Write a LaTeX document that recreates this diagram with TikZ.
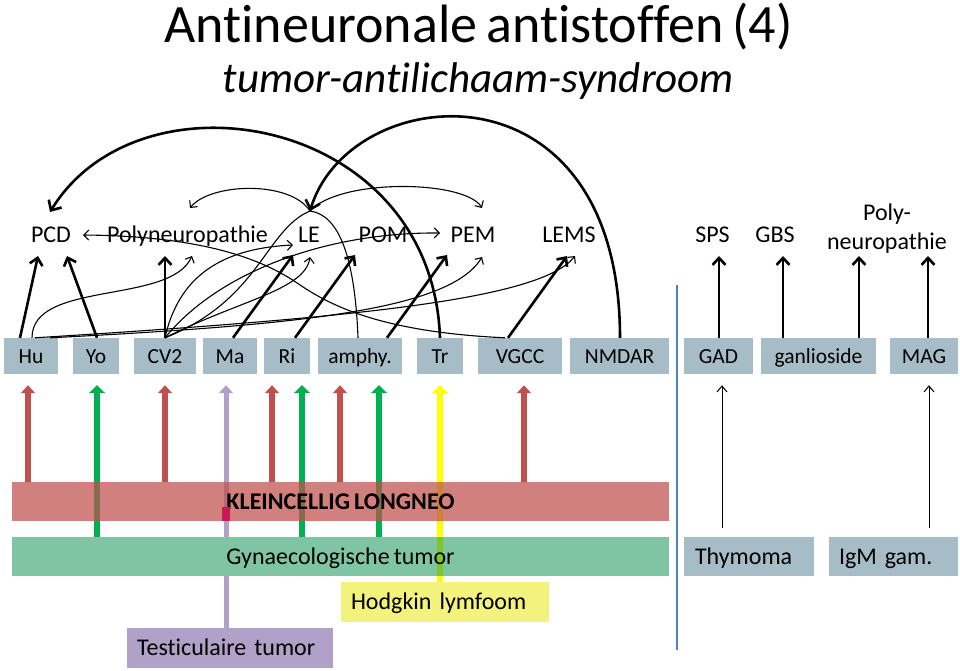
\documentclass[tikz,border=0pt]{standalone}
\usepackage{fontspec}
\setmainfont{Carlito}[Ligatures=NoCommon, WordSpace=0.75]
\usetikzlibrary{arrows.meta,calc}
\pgfdeclarelayer{bg}
\pgfsetlayers{bg,main}
\definecolor{boxc}{RGB}{166,189,199}
\definecolor{arred}{RGB}{192,80,77}
\definecolor{argreen}{RGB}{0,176,80}
\definecolor{arpurple}{RGB}{178,161,199}
\definecolor{aryellow}{RGB}{255,255,0}
\definecolor{bargreen}{RGB}{0,140,75}
\definecolor{hodgc}{RGB}{242,242,125}
\definecolor{testc}{RGB}{177,160,199}
\definecolor{sepblue}{RGB}{79,129,189}
\definecolor{crim}{RGB}{200,25,85}
\begin{document}
\begin{tikzpicture}[x=1pt,y=-1pt,
  abox/.style={fill=boxc, inner sep=0pt, minimum height=36pt, font=\fontsize{21.5}{24}\selectfont, text height=15pt, text depth=0pt},
  lbl/.style={inner sep=0pt, font=\fontsize{24}{28}\selectfont, text height=15pt, text depth=0pt},
  tbox/.style={inner sep=0pt, minimum height=39pt, font=\fontsize{24}{28}\selectfont, text height=15.5pt, text depth=0pt},
  tarr/.style={line width=2.6pt, -{Straight Barb[length=7pt,width=13pt]}},
  bigarr/.style={line width=2.6pt, -{Straight Barb[length=8pt,width=15pt]}},
  narr/.style={line width=1.1pt, -{Straight Barb[length=5pt,width=10pt]}},
  nline/.style={line width=1.1pt},
  rarr/.style={arred, line width=5.5pt, -{Triangle[length=8pt,width=14pt]}},
  garr/.style={argreen, line width=6.5pt, -{Triangle[length=8pt,width=16pt]}},
  parr/.style={arpurple, line width=5pt, -{Triangle[length=8pt,width=14pt]}},
  pline/.style={arpurple, line width=5pt},
  yarr/.style={aryellow, line width=6.5pt, -{Triangle[length=8pt,width=16pt]}},
  karr/.style={line width=1pt, -{Straight Barb[length=6pt,width=10pt]}},
]
\useasboundingbox (0,0) rectangle (960,670);
\begin{pgfonlayer}{bg}
\fill[white] (0,0) rectangle (960,670);
\end{pgfonlayer}

% titles
\node[font=\fontsize{54}{60}\selectfont, anchor=base, inner sep=0pt] (title) at (478.5,42) {Antineuronale antistoffen (4)};
\node[font=\itshape\fontsize{43}{48}\selectfont, anchor=base, inner sep=0pt] (sub) at (478.5,92) {tumor-antilichaam-syndroom};

% top labels
\node[lbl] (pcd) at (51,235) {PCD};
\node[lbl] (polyn) at (187.5,235) {Polyneuropathie};
\node[lbl] (le) at (309,235) {LE};
\node[lbl] (pom) at (383,235) {POM};
\node[lbl] (pem) at (473,235) {PEM};
\node[lbl] (lems) at (569,235) {LEMS};
\node[lbl] (sps) at (712.5,235) {SPS};
\node[lbl] (gbs) at (775,235) {GBS};
\node[inner sep=0pt, align=center, font=\fontsize{24}{29}\selectfont] (polyr) at (887,228.5) {Poly-\\neuropathie};

% antigen boxes
\node[abox, minimum width=54pt] (hu) at (31,356) {Hu};
\node[abox, minimum width=46pt] (yo) at (96,356) {Yo};
\node[abox, minimum width=62pt] (cv) at (165,356) {CV2};
\node[abox, minimum width=54pt] (ma) at (230,356) {Ma};
\node[abox, minimum width=46pt] (ri) at (287,356) {Ri};
\node[abox, minimum width=84pt] (amphy) at (360,356) {amphy.};
\node[abox, minimum width=46pt] (tr) at (440,356) {Tr};
\node[abox, minimum width=84pt] (vgcc) at (520,356) {VGCC};
\node[abox, minimum width=99pt] (nmdar) at (619.5,356) {NMDAR};
\node[abox, minimum width=69pt] (gad) at (718.5,356) {GAD};
\node[abox, minimum width=115pt] (gang) at (818.5,356) {ganlioside};
\node[abox, minimum width=68pt] (mag) at (924,356) {MAG};

% tumour bars and boxes
\node[tbox, fill=arred, fill opacity=0.72, text opacity=1, minimum width=657pt, font=\bfseries\fontsize{24}{28}\selectfont] (sclc) at (340.5,501.5) {KLEINCELLIG LONGNEO};
\node[tbox, fill=bargreen, fill opacity=0.5, text opacity=1, minimum width=657pt] (gyn) at (340.5,556.5) {Gynaecologische tumor};
\node[tbox, fill=hodgc, minimum height=40pt, inner xsep=10pt, text width=188pt, align=left] (hodg) at (445,602) {Hodgkin lymfoom};
\node[tbox, fill=testc, minimum height=40pt, inner xsep=10pt, text width=186pt, align=left] (test) at (230,648) {Testiculaire tumor};
\node[tbox, fill=boxc, inner xsep=11pt, text width=108pt, align=left] (thym) at (749,556.5) {Thymoma};
\node[tbox, fill=boxc, inner xsep=10pt, text width=109pt, align=left] (igm) at (893.5,556.5) {IgM gam.};
\fill[crim] ($(ma.south |- sclc.south)+(-8,-14)$) rectangle (ma.south |- sclc.south);

% separator
\draw[sepblue, line width=1.2pt] (677,285) -- (677,650);

% coloured arrows (behind the translucent bars)
\begin{pgfonlayer}{bg}
\draw[rarr] ($(hu.south |- sclc.north)+(-3,0)$) -- ($(hu.south)+(-3,11)$);
\draw[rarr] (cv.south |- sclc.north) -- ($(cv.south)+(0,11)$);
\draw[rarr] ($(ri.south |- sclc.north)+(-15,0)$) -- ($(ri.south)+(-15,11)$);
\draw[rarr] ($(amphy.south |- sclc.north)+(-20,0)$) -- ($(amphy.south)+(-20,11)$);
\draw[rarr] ($(vgcc.south |- sclc.north)+(4,0)$) -- ($(vgcc.south)+(4,11)$);
\draw[garr] ($(yo.south |- gyn.north)+(1,0)$) -- ($(yo.south)+(1,11)$);
\draw[garr] ($(ri.south |- gyn.north)+(15,0)$) -- ($(ri.south)+(15,11)$);
\draw[garr] ($(amphy.south |- gyn.north)+(19,0)$) -- ($(amphy.south)+(19,11)$);
\draw[pline] ($(ma.south |- test.north)+(-4,0)$) -- ($(ma.south |- gyn.south)+(-4,0)$);
\draw[parr] ($(ma.south |- gyn.north)+(-4,0)$) -- ($(ma.south)+(-4,11)$);
\draw[yarr] (tr.south |- hodg.north) -- ($(tr.south)+(0,11)$);
\end{pgfonlayer}
\draw[karr] ($(gad.south |- thym.north)+(3.5,-9)$) -- ($(gad.south)+(3.5,11)$);
\draw[karr] ($(mag.south |- igm.north)+(5,-9)$) -- ($(mag.south)+(5,11)$);

% thick black arrows
\draw[tarr] ($(hu.north)+(-11,0)$) -- ($(pcd)+(-13,21)$);
\draw[tarr] ($(yo.north)+(1,0)$) -- ($(pcd)+(16,21)$);
\draw[tarr] (cv.north) -- ($(polyn)+(-22.5,21)$);
\draw[tarr] ($(ma.north)+(3,0)$) -- ($(le)+(-16,20)$);
\draw[tarr] ($(ri.north)+(8,0)$) -- ($(pom)+(-28,20)$);
\draw[tarr] ($(amphy.north)+(27,0)$) -- ($(pem)+(-26,20)$);
\draw[tarr] ($(vgcc.north)+(-12,0)$) -- ($(lems)+(-2,21)$);
\draw[bigarr] (tr.north) .. controls (432,115) and (140,65) .. ($(pcd)+(-1,-23)$);
\draw[bigarr] ($(nmdar.north)+(0.5,0)$) .. controls (620,55) and (350,80) .. ($(le)+(1,-24)$);
\draw[tarr] ($(gad.north)+(0.5,0)$) -- ($(sps)+(6.5,21)$);
\draw[tarr] ($(gang.north)+(-35.5,0)$) -- ($(gbs)+(8,21)$);
\draw[tarr] ($(gang.north)+(40.5,0)$) -- ($(polyr)+(-28,27.5)$);
\draw[tarr] ($(mag.north)+(4,0)$) -- ($(polyr)+(41,27.5)$);

% thin connectors
\draw[narr] ($(vgcc.north)+(-15,0)$) .. controls (380,332) and (330,305) .. (300,285) .. controls (262,258) and (200,236) .. ($(pcd)+(32,0)$);
\draw[narr] ($(hu.north)+(1,0)$) .. controls (32,280) and (170,305) .. ($(polyn)+(4.5,21)$);
\draw[narr] (cv.north) .. controls (180,270) and (230,248) .. ($(le)+(-16,10)$);
\draw[narr] (cv.north) .. controls (220,270) and (330,232) .. ($(pem)+(-33,-2)$);
\draw[narr] (cv.north) .. controls (240,300) and (305,290) .. ($(le)+(1,22)$);
\draw[narr] ($(hu.north)+(19,0)$) .. controls (300,325) and (450,310) .. ($(pem)+(9,22)$);
\draw[narr] ($(hu.north)+(4,0)$) .. controls (350,318) and (540,300) .. ($(lems)+(6,21)$);
\draw[nline] (cv.north) .. controls (260,300) and (265,230) .. ($(le)+(1,-24)$);
\draw[nline] ($(amphy.north)+(-2,0)$) .. controls (355,260) and (340,215) .. ($(le)+(1,-24)$);
\draw[narr] ($(le)+(1,-24)$) .. controls (290,180) and (210,183) .. ($(polyn)+(2.5,-27)$);
\draw[narr] ($(le)+(1,-24)$) .. controls (340,178) and (465,180) .. ($(pem)+(9,-27)$);
\end{tikzpicture}
\end{document}
